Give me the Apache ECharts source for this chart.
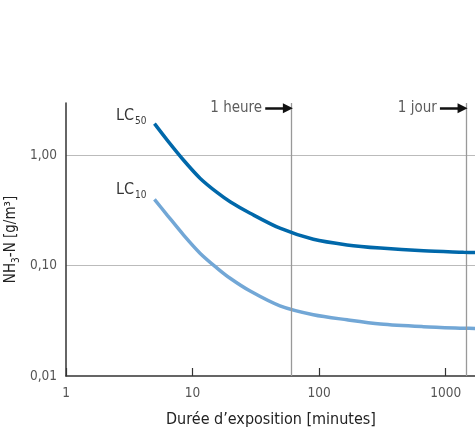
<!DOCTYPE html>
<html>
<head>
<meta charset="utf-8">
<script src="https://cdn.jsdelivr.net/npm/echarts@6/dist/echarts.min.js"></script>
<style>html,body{margin:0;padding:0;background:#fff}#c{width:475px;height:428px}</style>
</head>
<body>
<div id="c"></div>
<script>
var FONT = "'Liberation Sans Narrow','DejaVu Sans Condensed','Roboto Condensed',sans-serif";
var xTickLabels = ['1', '10', '100', '1000'];
var yTickLabels = ['0,01', '0,10', '1,00'];
var times = [5, 6.3, 8.5, 11.5, 15.6, 19.8, 28.5, 49, 90, 166, 305, 667, 1383, 1735];
var lc50Values = [1.93, 1.37, 0.90, 0.616, 0.46, 0.379, 0.298, 0.218, 0.173, 0.154, 0.144, 0.136, 0.132, 0.131];
var lc10Values = [0.398, 0.287, 0.189, 0.129, 0.095, 0.0768, 0.0588, 0.0432, 0.0359, 0.0323, 0.0296, 0.0280, 0.0271, 0.0269];
var markerTimes = [60, 1440];
var markerNames = ['1 heure', '1 jour'];
var markerLevel = 2.66;

function zip(a, b) { return a.map(function (v, i) { return [v, b[i]]; }); }
function fmtX(v) { var s = String(Math.round(v)); return xTickLabels.indexOf(s) >= 0 ? s : ''; }
function fmtY(v) {
  var s = v.toFixed(2).replace('.', ',');
  return yTickLabels.indexOf(s) >= 0 ? s : '';
}
var nameRich = {
  a: { fontSize: 16, fontFamily: FONT, color: '#000', lineHeight: 22, verticalAlign: 'middle' },
  s: { fontSize: 10, fontFamily: FONT, color: '#000', lineHeight: 22, verticalAlign: 'bottom', padding: [0, 0, 0, 1] }
};

var chart = echarts.init(document.getElementById('c'), null, { renderer: 'canvas' });
chart.setOption({
  animation: false,
  backgroundColor: '#fff',
  grid: { left: 66, right: -1, top: 103, bottom: 52, containLabel: false, outerBoundsMode: 'none' },
  xAxis: {
    type: 'log', logBase: 10, min: 1, max: 1735,
    name: 'Durée d’exposition [minutes]', nameLocation: 'middle', nameGap: 36,
    nameTextStyle: { fontFamily: FONT, fontSize: 16, color: '#222' },
    axisLine: { show: true, lineStyle: { color: '#333', width: 1.5 } },
    axisTick: { show: true, inside: true, length: 8, lineStyle: { color: '#333', width: 1.2 } },
    axisLabel: { fontFamily: FONT, fontSize: 13.5, color: '#555', margin: 10, showMaxLabel: false, formatter: fmtX },
    splitLine: { show: false }, minorTick: { show: false }
  },
  yAxis: {
    type: 'log', logBase: 10, min: 0.01, max: 2.97,
    name: '{a|NH}{s|3}{a|-N [g/m³]}', nameLocation: 'middle', nameGap: 45, nameMoveOverlap: false,
    nameTextStyle: { rich: {
      a: { fontFamily: FONT, fontSize: 15, color: '#222', lineHeight: 20, verticalAlign: 'middle' },
      s: { fontFamily: FONT, fontSize: 10, color: '#222', lineHeight: 20, verticalAlign: 'bottom' }
    } },
    axisLine: { show: true, lineStyle: { color: '#333', width: 1.5 } },
    axisTick: { show: false },
    axisLabel: { fontFamily: FONT, fontSize: 13.5, color: '#555', margin: 9, showMaxLabel: false, formatter: fmtY },
    splitLine: { show: true, showMinLine: false, showMaxLine: false, lineStyle: { color: '#bbb', width: 1.2 } },
    minorTick: { show: false }
  },
  series: [
    {
      type: 'line', name: 'LC50', data: zip(times, lc50Values), smooth: 0.3, showSymbol: false,
      lineStyle: { color: '#0068aa', width: 3.5 }, itemStyle: { color: '#0068aa' }, z: 5
    },
    {
      type: 'line', name: 'LC10', data: zip(times, lc10Values), smooth: 0.3, showSymbol: false,
      lineStyle: { color: '#72a7d6', width: 3.5 }, itemStyle: { color: '#72a7d6' }, z: 4
    },
    {
      type: 'scatter', name: 'curve labels', symbolSize: 0, silent: true,
      data: [
        { value: [times[0], lc50Values[0]], name: '50', label: { offset: [0, -8] } },
        { value: [times[0], lc10Values[0]], name: '10', label: { offset: [0, -10] } }
      ],
      label: { show: true, position: 'left', distance: 8, formatter: '{a|LC}{s|{b}}', rich: nameRich },
      z: 7
    },
    {
      type: 'scatter', name: 'markers', symbolSize: 0, silent: true,
      data: markerTimes.map(function (t, i) {
        return { value: [t, markerLevel], name: markerNames[i] };
      }),
      label: { show: true, position: 'left', distance: 29, formatter: '{b}',
        fontFamily: FONT, fontSize: 15, color: '#333' },
      markLine: {
        silent: true, symbol: 'none',
        label: { show: false },
        lineStyle: { color: '#999', width: 1.3, type: 'solid' },
        data: markerTimes.map(function (t) { return { xAxis: t }; })
      },
      z: 3
    },
    {
      type: 'line', name: 'arrows', data: [], silent: true,
      markLine: {
        silent: true, symbol: ['none', 'triangle'], symbolSize: 10,
        label: { show: false },
        lineStyle: { color: '#111', width: 2.5, type: 'solid' },
        itemStyle: { color: '#111' },
        data: markerTimes.map(function (t) {
          return [{ coord: [t / 1.6, markerLevel] }, { coord: [t / 1.06, markerLevel] }];
        })
      },
      z: 6
    }
  ]
});
</script>
</body>
</html>
